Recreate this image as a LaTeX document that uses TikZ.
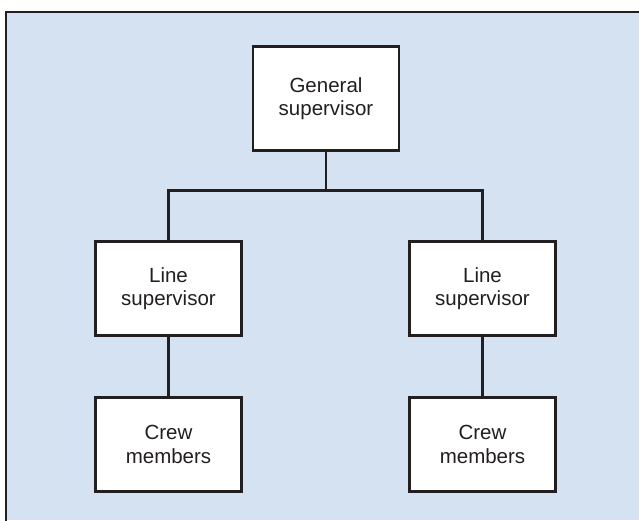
\documentclass[tikz,border=0pt]{standalone}
\usepackage{fontspec}
\setmainfont{Liberation Sans}
\definecolor{panel}{HTML}{D5E2F2}
\definecolor{ink}{HTML}{231F20}
\begin{document}
\begin{tikzpicture}[x=1pt,y=-1pt,
  orgbox/.style={draw=ink, fill=white, line width=2.8pt, rectangle,
    minimum width=146pt, minimum height=94pt, align=center, inner sep=0pt,
    text=ink, font=\fontsize{20.5}{23.5}\selectfont},
  link/.style={draw=ink, line width=2.8pt}]
  \useasboundingbox (0,0) rectangle (639,520);
  % panel with its top and left rules
  \fill[panel] (6,12) rectangle (639,520);
  \draw[ink, line width=2.8pt] (6,521) -- (6,12) -- (640,12);

  % boxes
  \node[orgbox, minimum height=104pt] (gen) at (326,98.5) {General\\supervisor};
  \node[orgbox] (ls1) at (168.5,288.7) {Line\\supervisor};
  \node[orgbox] (ls2) at (482.5,288.7) {Line\\supervisor};
  \node[orgbox] (cm1) at (168.5,444.5) {Crew\\members};
  \node[orgbox] (cm2) at (482.5,444.5) {Crew\\members};

  % connectors
  \coordinate (bus) at (0,190.7);
  \draw[link] (gen.south) -- (gen.south |- bus);
  \draw[link] (ls1.north) -- (ls1.north |- bus) -- (ls2.north |- bus) -- (ls2.north);
  \draw[link] (ls1.south) -- (cm1.north);
  \draw[link] (ls2.south) -- (cm2.north);
\end{tikzpicture}
\end{document}
